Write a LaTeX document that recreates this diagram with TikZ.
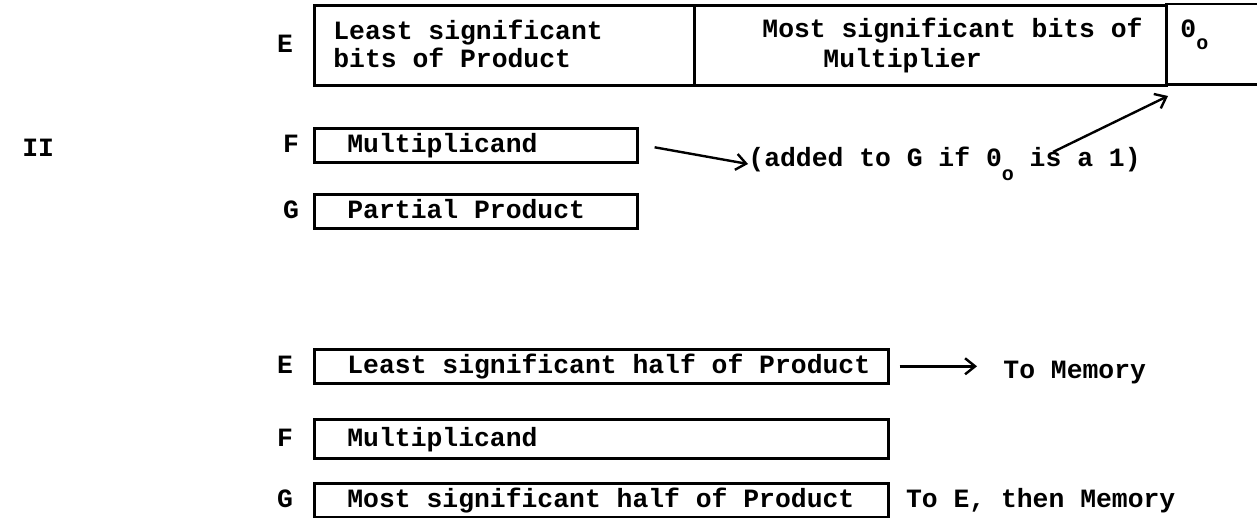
\documentclass[tikz,border=0pt]{standalone}
\usepackage{fontspec}
\setmainfont{Liberation Mono}
\usetikzlibrary{arrows.meta}
\newcommand{\subo}[1][-6pt]{\raisebox{#1}{\fontsize{10}{10}\selectfont o}}
\begin{document}
\begin{tikzpicture}[x=0.5pt,y=-0.5pt,
  txt/.style={anchor=base west, inner sep=0, font=\bfseries\fontsize{13.2}{15}\selectfont},
  intxt/.style={txt, anchor=mid west, yshift=-1pt},
  lbl/.style={anchor=mid, inner sep=0, yshift=-1pt, font=\bfseries\fontsize{13.2}{15}\selectfont},
  reg/.style={draw, line width=1.3pt, rectangle, anchor=north west, inner sep=0},
  rule/.style={line width=1.3pt},
  flow/.style={line width=1.2pt, -{Straight Barb[length=5pt,width=8pt,line width=1.2pt]}}]
\useasboundingbox (0,0) rectangle (1257,518);

% ---- register E: product and multiplier bits ----
\node[reg, minimum width=190pt, minimum height=40pt] (eLsb) at (313,4) {};
\node[reg, minimum width=236pt, minimum height=40pt] (eMsb) at (693,4) {};
\node[anchor=north west, inner sep=0, minimum width=50pt, minimum height=40pt] (eBit) at (1165,4) {};
\draw[rule] (eBit.north west) -- (eBit.north east)
            (eBit.south west) -- (eBit.south east);
\node[lbl] (labE1) at ([xshift=-14pt]eLsb.west) {E};
\node[txt] (tLsb1) at (333,40) {Least significant};
\node[txt] (tLsb2) at (333,68) {bits of Product};
\node[txt] (tMsb1) at (762,38) {Most significant bits of};
\node[txt] (tMsb2) at (823,68) {Multiplier};
\node[txt] (tBit)  at (1180,38) {0\subo};

% ---- step II ----
\node[txt] (stepII) at (22,157) {II};

\node[reg, minimum width=161.5pt, minimum height=17pt] (fReg) at (313,127) {};
\node[lbl] (labF1) at ([xshift=-11pt]fReg.west) {F};
\node[intxt] (tF1) at ([xshift=17pt]fReg.west) {Multiplicand};

\node[txt] (tAdd) at (748,167) {(added to G if 0\subo[-7pt] is a 1)};
\draw[flow] ([xshift=8pt,yshift=-1pt]fReg.east) -- (tAdd.base west |- 0,164) coordinate (addTip);
\coordinate (isTop) at (1053,152);
\coordinate (bitTip) at (1168,96);
\draw[flow] (isTop) -- (bitTip);

\node[reg, minimum width=161.5pt, minimum height=17pt] (gReg) at (313,193) {};
\node[lbl] (labG1) at ([xshift=-11pt]gReg.west) {G};
\node[intxt] (tG1) at ([xshift=17pt]gReg.west) {Partial Product};

% ---- final state ----
\node[reg, minimum width=287pt, minimum height=17pt] (eReg2) at (313,348) {};
\node[lbl] (labE2) at ([xshift=-14pt]eReg2.west) {E};
\node[intxt] (tE2) at ([xshift=17pt]eReg2.west) {Least significant half of Product};
\node[txt] (tMem) at (1003,378) {To Memory};
\draw[flow] ([xshift=5pt]eReg2.east) -- ([xshift=-13pt]tMem.base west |- eReg2.east);

\node[reg, minimum width=287pt, minimum height=19.5pt] (fReg2) at (313,418) {};
\node[lbl] (labF2) at ([xshift=-14pt]fReg2.west) {F};
\node[intxt] (tF2) at ([xshift=17pt]fReg2.west) {Multiplicand};

\node[reg, minimum width=287pt, minimum height=17pt] (gReg2) at (313,482) {};
\node[lbl] (labG2) at ([xshift=-14pt]gReg2.west) {G};
\node[intxt] (tG2) at ([xshift=17pt]gReg2.west) {Most significant half of Product};
\node[intxt] (tToE) at ([xshift=8pt]gReg2.east) {To E, then Memory};
\end{tikzpicture}
\end{document}
